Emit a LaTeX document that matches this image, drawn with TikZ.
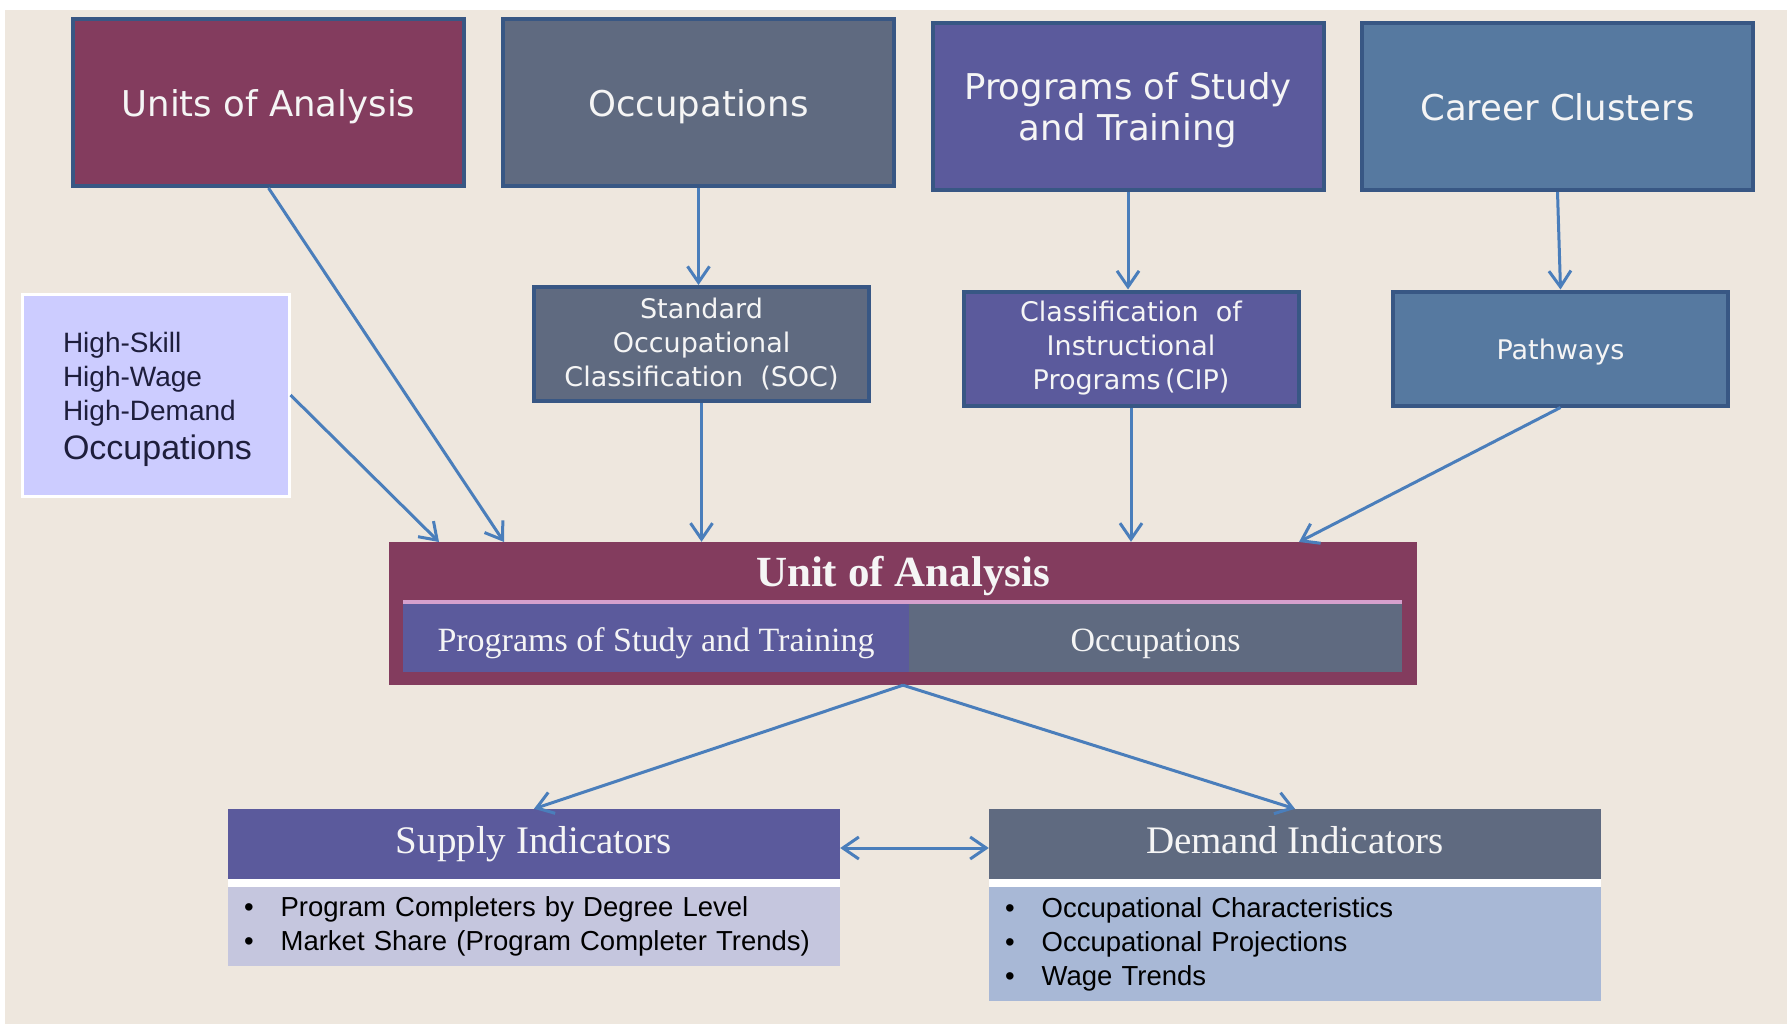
\documentclass[tikz,border=0pt]{standalone}
\usepackage{fontspec}
\setmainfont{DejaVu Sans}
\newfontfamily\arialfont{Liberation Sans}
\newfontfamily\cambriafont{Liberation Serif}
\usetikzlibrary{arrows.meta}
\definecolor{bgbeige}{RGB}{238,231,222}
\definecolor{maroonbox}{RGB}{131,60,94}
\definecolor{slatebox}{RGB}{95,106,128}
\definecolor{purplebox}{RGB}{91,90,156}
\definecolor{steelbox}{RGB}{86,121,160}
\definecolor{boxline}{RGB}{56,87,132}
\definecolor{lavender}{RGB}{204,204,255}
\definecolor{supplylight}{RGB}{197,198,222}
\definecolor{demandlight}{RGB}{168,184,214}
\definecolor{pinkline}{RGB}{214,160,205}
\definecolor{linkblue}{RGB}{74,126,187}
\definecolor{boxtext}{RGB}{245,245,245}
\definecolor{navytext}{RGB}{30,30,60}
\tikzset{
  topbox/.style={draw=boxline, line width=4pt, text=boxtext, inner sep=0pt, align=center,
    minimum width=391pt, minimum height=167pt, font=\fontsize{35.5}{41}\selectfont},
  subbox/.style={topbox, minimum width=335pt, minimum height=114pt, font=\fontsize{27}{34}\selectfont},
  oneline/.style={text height=#1, text depth=0pt},
  band/.style={inner sep=0pt, minimum height=70pt, text=boxtext, text height=31pt, text depth=1.5pt,
    font=\cambriafont\fontsize{34}{40}\selectfont},
  head/.style={inner sep=0pt, minimum width=612pt, minimum height=70pt, text=boxtext,
    text height=26.5pt, text depth=8.5pt, font=\cambriafont\fontsize{39}{44}\selectfont},
  body/.style={inner xsep=16pt, inner ysep=0pt, minimum width=612pt, text width=580pt, align=left,
    text=black, font=\arialfont\fontsize{27.5}{34}\selectfont},
  link/.style={draw=linkblue, line width=3pt, ->},
}
\newcommand{\bul}{\textbullet\hspace{27pt}}
\begin{document}
\begin{tikzpicture}[x=1pt,y=-1pt,>={Straight Barb[length=16pt,width=22pt]}]
  \useasboundingbox (0,0) rectangle (1787,1024);
  \fill[bgbeige] (5,10) rectangle (1787,1024);
  % top row
  \node[topbox, oneline=29pt, fill=maroonbox] (units) at (268.5,102.5) {Units of Analysis};
  \node[topbox, oneline=29pt, fill=slatebox] (occ) at (698.5,102.5) {Occupations};
  \node[topbox, fill=purplebox] (prog) at (1128,106.5) {\rule{0pt}{34pt}Programs of Study\\and Training};
  \node[topbox, oneline=29pt, fill=steelbox] (career) at (1557.5,106.5) {Career Clusters};
  % second row
  \node[subbox, fill=slatebox] (soc) at (701.5,344) {Standard\\Occupational\\Classification\ \ (SOC)};
  \node[subbox, fill=purplebox] (cip) at (1131,348.5) {Classification\ \ of\\Instructional\\Programs\,(CIP)};
  \node[subbox, oneline=21pt, fill=steelbox] (path) at (1560.5,348.5) {Pathways};
  \node[draw=white, line width=3pt, fill=lavender, text=navytext, minimum width=267pt, minimum height=202pt,
    text width=185pt, align=left, inner sep=0pt] (hs) at (155.5,395)
    {\arialfont\fontsize{28}{34}\selectfont\rule{0pt}{29pt}High-Skill\\High-Wage\\High-Demand\\[8pt]
     \fontsize{34}{38}\selectfont Occupations};
  % unit of analysis
  \node[fill=maroonbox, minimum width=1028pt, minimum height=143pt, inner sep=0pt] (unit) at (903,613.5) {};
  \node[text=boxtext, text height=30pt, text depth=4pt,
    font=\cambriafont\bfseries\fontsize{43}{48}\selectfont] (unittitle) at (903,573) {Unit of Analysis};
  \node[band, fill=purplebox, minimum width=506pt] (bandprog) at (656,637) {Programs of Study and Training};
  \node[band, fill=slatebox, minimum width=493pt] (bandocc) at (1155.5,637) {Occupations};
  \draw[pinkline, line width=4pt] (bandprog.north west) -- (bandocc.north east);
  % indicators
  \node[head, fill=purplebox] (supplyhead) at (534,844) {Supply Indicators};
  \node[body, fill=supplylight, minimum height=79pt] (supplybody) at (534,926.5)
    {\bul Program Completers by Degree Level\\\bul Market\ Share (Program Completer Trends)};
  \node[head, fill=slatebox] (demandhead) at (1295,844) {Demand Indicators};
  \node[body, fill=demandlight, minimum height=114pt] (demandbody) at (1295,944)
    {\bul Occupational Characteristics\\\bul Occupational Projections\\\bul Wage Trends};
  \fill[white] (supplyhead.south west) rectangle (supplybody.north east);
  \fill[white] (demandhead.south west) rectangle (demandbody.north east);
  % connectors
  \coordinate (hsin) at (439,542);
  \coordinate (unitsin) at (504,542);
  \coordinate (pathin) at (1299,542);
  \draw[link] (units.south) -- (unitsin);
  \draw[link] (hs.east) -- (hsin);
  \draw[link] (occ.south) -- (occ.south |- soc.north);
  \draw[link] (soc.south) -- (soc.south |- unit.north);
  \draw[link] (prog.south) -- (prog.south |- cip.north);
  \draw[link] (cip.south) -- (cip.south |- unit.north);
  \draw[link] (career.south) -- (path.north);
  \draw[link] (path.south) -- (pathin);
  \draw[link] (unit.south) -- (supplyhead.north);
  \draw[link] (unit.south) -- (demandhead.north);
  \draw[link, <->] ([yshift=-4pt]supplyhead.east) -- ([yshift=-4pt]demandhead.west);
\end{tikzpicture}
\end{document}
